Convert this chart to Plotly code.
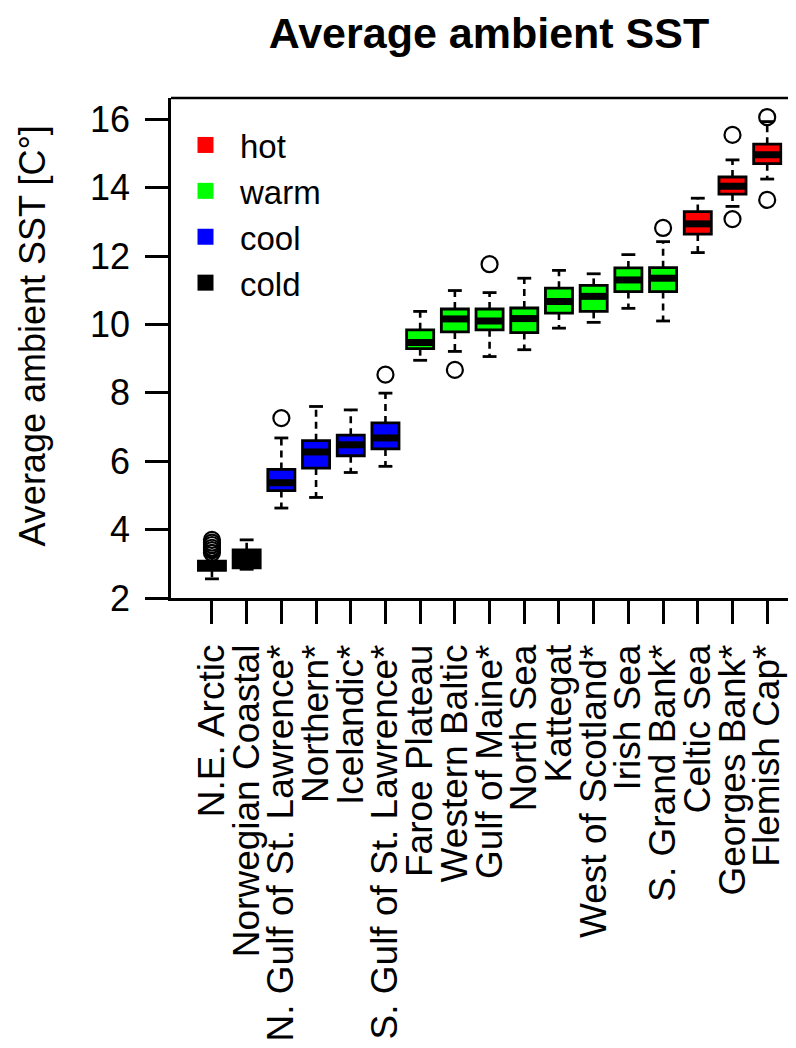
import plotly.graph_objects as go

categories = ["N.E. Arctic", "Norwegian Coastal", "N. Gulf of St. Lawrence*", "Northern*",
              "Icelandic*", "S. Gulf of St. Lawrence*", "Faroe Plateau", "Western Baltic",
              "Gulf of Maine*", "North Sea", "Kattegat", "West of Scotland*", "Irish Sea",
              "S. Grand Bank*", "Celtic Sea", "Georges Bank*", "Flemish Cap*"]
groups = ["cold", "cold", "cool", "cool", "cool", "cool", "warm", "warm", "warm", "warm",
          "warm", "warm", "warm", "warm", "hot", "hot", "hot"]
lower_whisker = [2.56, 2.84, 4.63, 4.94, 5.67, 5.85, 8.95, 9.21, 9.06, 9.26, 9.89, 10.06,
                 10.47, 10.10, 12.10, 13.45, 14.25]
q1 = [2.81, 2.88, 5.14, 5.80, 6.16, 6.36, 9.29, 9.78, 9.84, 9.76, 10.33, 10.38,
      10.96, 10.96, 12.64, 13.81, 14.70]
median = [2.93, 3.10, 5.37, 6.27, 6.48, 6.68, 9.47, 10.16, 10.10, 10.17, 10.67, 10.82,
          11.30, 11.35, 12.94, 14.04, 14.96]
q3 = [3.08, 3.41, 5.76, 6.60, 6.76, 7.12, 9.84, 10.45, 10.45, 10.48, 11.06, 11.14,
      11.65, 11.66, 13.30, 14.31, 15.27]
upper_whisker = [3.22, 3.70, 6.68, 7.60, 7.50, 7.99, 10.38, 10.99, 10.93, 11.35, 11.58, 11.48,
                 12.04, 12.42, 13.69, 14.81, 15.93]
outliers = [[3.32, 3.40, 3.47, 3.55, 3.62, 3.70], [], [7.26], [], [], [8.53], [], [8.67],
            [11.76], [], [], [], [], [12.82], [], [15.54, 13.08], [16.06, 13.64]]
legend_groups = ["hot", "warm", "cool", "cold"]
group_colors = {"hot": "#FF0000", "warm": "#00FF00", "cool": "#0000FF", "cold": "#000000"}
y_ticks = [2, 4, 6, 8, 10, 12, 14, 16]

FONT = "Liberation Sans, Arial, sans-serif"
positions = list(range(1, len(categories) + 1))
BOX_W = 0.78
CAP_HALF = 0.2

fig = go.Figure()

# whiskers (dashed)
wx, wy = [], []
for p, lo, a, b, hi in zip(positions, lower_whisker, q1, q3, upper_whisker):
    wx += [p, p, None, p, p, None]
    wy += [b, hi, None, a, lo, None]
fig.add_trace(go.Scatter(x=wx, y=wy, mode="lines", line=dict(color="black", width=2.6, dash="7px,5px"),
                         showlegend=False, hoverinfo="skip"))
# whisker caps
cx, cy = [], []
for p, lo, hi in zip(positions, lower_whisker, upper_whisker):
    cx += [p - CAP_HALF, p + CAP_HALF, None, p - CAP_HALF, p + CAP_HALF, None]
    cy += [hi, hi, None, lo, lo, None]
fig.add_trace(go.Scatter(x=cx, y=cy, mode="lines", line=dict(color="black", width=2.8),
                         showlegend=False, hoverinfo="skip"))

# boxes
for p, g, a, m, b in zip(positions, groups, q1, median, q3):
    fig.add_trace(go.Box(x=[p], q1=[a], median=[m], q3=[b], lowerfence=[a], upperfence=[b],
                         orientation="v", fillcolor=group_colors[g],
                         line=dict(color="black", width=2.8), width=BOX_W, whiskerwidth=0,
                         boxpoints=False, showlegend=False, hoverinfo="skip"))

# thick medians
mx, my = [], []
for p, m in zip(positions, median):
    mx += [p - BOX_W / 2 + 0.02, p + BOX_W / 2 - 0.02, None]
    my += [m, m, None]
fig.add_trace(go.Scatter(x=mx, y=my, mode="lines", line=dict(color="black", width=7),
                         showlegend=False, hoverinfo="skip"))

# outliers
ox, oy = [], []
for p, outs in zip(positions, outliers):
    for v in outs:
        ox.append(p)
        oy.append(v)
fig.add_trace(go.Scatter(x=ox, y=oy, mode="markers",
                         marker=dict(symbol="circle-open", size=16, color="black", line=dict(width=2.2)),
                         showlegend=False, hoverinfo="skip"))

# legend entries
for g in legend_groups:
    fig.add_trace(go.Scatter(x=[None], y=[None], mode="markers", name=g,
                             marker=dict(symbol="square", size=16, color=group_colors[g])))

# the page adds an 8px body margin; plot area targets 171..796 x 98..598 on screen
fig.update_layout(
    width=796, height=1048,
    margin=dict(l=163, r=8, t=90, b=458, autoexpand=False),
    paper_bgcolor="white", plot_bgcolor="white",
    font=dict(family=FONT, color="black"),
    title=dict(text="<b>Average ambient SST</b>", x=481 / 796, xanchor="center",
               y=1 - 25 / 1048, yanchor="middle", font=dict(size=43, family=FONT, color="black")),
    showlegend=True,
    legend=dict(x=0.0, y=0.962, xanchor="left", yanchor="top", bgcolor="rgba(0,0,0,0)",
                font=dict(size=33, family=FONT, color="black"), itemsizing="trace",
                itemwidth=59, tracegroupgap=0),
    xaxis=dict(range=[-0.18, 17.83], tickmode="array", tickvals=positions, ticktext=categories,
               tickangle=-90, ticks="outside", ticklen=23, tickwidth=2.6, tickcolor="black",
               showline=True, linecolor="black", linewidth=2.6, showgrid=False, zeroline=False,
               automargin=False,
               tickfont=dict(size=37, family=FONT, color="black"), ticklabelstandoff=6),
    yaxis=dict(range=[2, 16.62], tickmode="array", tickvals=y_ticks, ticks="outside", ticklen=23,
               tickwidth=2.6, tickcolor="black", showline=True, linecolor="black", linewidth=2.6,
               showgrid=False, zeroline=False, automargin=False,
               tickfont=dict(size=36, family=FONT, color="black"), ticklabelstandoff=8),
    shapes=[dict(type="line", xref="paper", yref="paper", x0=0, x1=1, y0=1, y1=1,
                 line=dict(color="black", width=2.6))],
    annotations=[dict(text="Average ambient SST [C°]", xref="paper", yref="paper",
                      x=(32 - 171) / 625, y=(598 - 336.5) / 500, xanchor="center", yanchor="middle",
                      textangle=-90, showarrow=False, font=dict(size=36, family=FONT, color="black"))],
)

fig.write_html("out.html")
